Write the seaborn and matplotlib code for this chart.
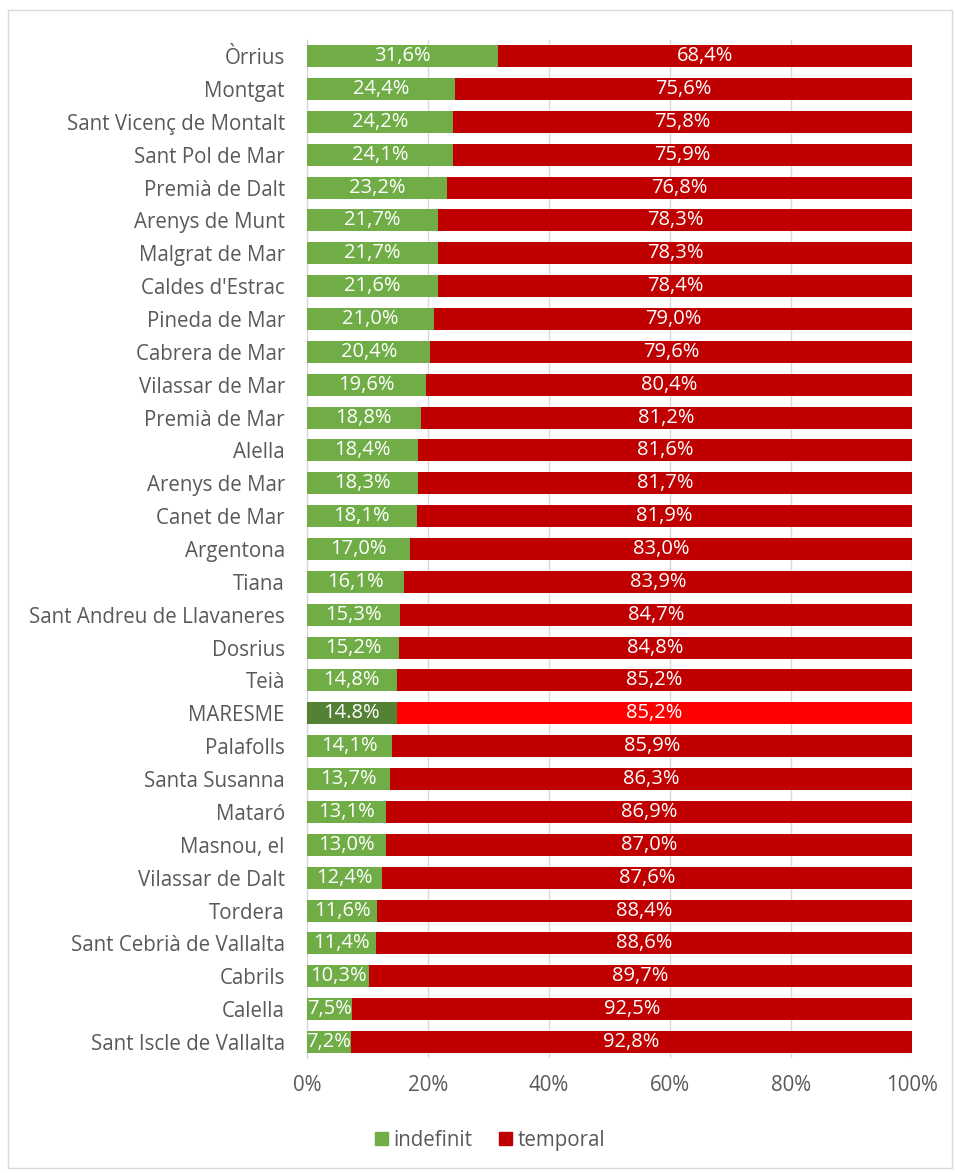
import matplotlib
matplotlib.use("Agg")
import matplotlib.pyplot as plt
import seaborn as sns
import pandas as pd
from matplotlib.patches import Patch, Rectangle

municipis = ["Òrrius", "Montgat", "Sant Vicenç de Montalt", "Sant Pol de Mar", "Premià de Dalt",
             "Arenys de Munt", "Malgrat de Mar", "Caldes d'Estrac", "Pineda de Mar", "Cabrera de Mar",
             "Vilassar de Mar", "Premià de Mar", "Alella", "Arenys de Mar", "Canet de Mar",
             "Argentona", "Tiana", "Sant Andreu de Llavaneres", "Dosrius", "Teià",
             "MARESME", "Palafolls", "Santa Susanna", "Mataró", "Masnou, el",
             "Vilassar de Dalt", "Tordera", "Sant Cebrià de Vallalta", "Cabrils", "Calella",
             "Sant Iscle de Vallalta"]
indefinit = [31.6, 24.4, 24.2, 24.1, 23.2, 21.7, 21.7, 21.6, 21.0, 20.4,
             19.6, 18.8, 18.4, 18.3, 18.1, 17.0, 16.1, 15.3, 15.2, 14.8,
             14.8, 14.1, 13.7, 13.1, 13.0, 12.4, 11.6, 11.4, 10.3, 7.5, 7.2]
temporal = [68.4, 75.6, 75.8, 75.9, 76.8, 78.3, 78.3, 78.4, 79.0, 79.6,
            80.4, 81.2, 81.6, 81.7, 81.9, 83.0, 83.9, 84.7, 84.8, 85.2,
            85.2, 85.9, 86.3, 86.9, 87.0, 87.6, 88.4, 88.6, 89.7, 92.5, 92.8]

GREEN, RED = "#70AD47", "#C00000"
GREEN_HI, RED_HI = "#548235", "#FF0000"
FONT = "Open Sans"
GREY = "#595959"

df = pd.DataFrame({"municipi": municipis, "indefinit": indefinit, "temporal": temporal})
df["total"] = df["indefinit"] + df["temporal"]

sns.set_theme(style="white")
plt.rcParams["font.family"] = [FONT, "DejaVu Sans"]

fig = plt.figure(figsize=(9.55, 11.73), dpi=100)
ax = fig.add_axes([0.3215, 0.0977, 0.955 - 0.3215, 0.9662 - 0.0977])

red_pal = {m: (RED_HI if m == "MARESME" else RED) for m in municipis}
green_pal = {m: (GREEN_HI if m == "MARESME" else GREEN) for m in municipis}

sns.barplot(data=df, x="total", y="municipi", hue="municipi", palette=red_pal,
            order=municipis, hue_order=municipis, legend=False, width=0.67,
            ax=ax, saturation=1, linewidth=0, zorder=2)
sns.barplot(data=df, x="indefinit", y="municipi", hue="municipi", palette=green_pal,
            order=municipis, hue_order=municipis, legend=False, width=0.67,
            ax=ax, saturation=1, linewidth=0, zorder=3)

for i, m in enumerate(municipis):
    a, b = indefinit[i], temporal[i]
    la = f"{a:.1f}%" if m == "MARESME" else f"{a:.1f}%".replace(".", ",")
    lb = f"{b:.1f}%".replace(".", ",")
    ax.text(a / 2, i, la, ha="center", va="center", color="white", fontsize=14.5, zorder=5)
    ax.text(a + b / 2, i, lb, ha="center", va="center", color="white", fontsize=14.5, zorder=5)

ax.set_xlim(0, 100)
ax.set_ylim(len(municipis) - 0.5, -0.5)
ax.set_xticks([0, 20, 40, 60, 80, 100])
ax.set_xticklabels(["0%", "20%", "40%", "60%", "80%", "100%"])
ax.xaxis.grid(True, color="#D9D9D9", linewidth=1, zorder=0)
ax.set_axisbelow(True)
ax.set_xlabel("")
ax.set_ylabel("")
for s in ["top", "right", "bottom"]:
    ax.spines[s].set_visible(False)
ax.spines["left"].set_color("#D9D9D9")
ax.spines["left"].set_linewidth(1)
ax.tick_params(axis="both", length=0, labelsize=14.8, colors=GREY)
ax.tick_params(axis="y", pad=16)
ax.tick_params(axis="x", pad=12)

handles = [Patch(color=GREEN, label="indefinit"), Patch(color=RED, label="temporal")]
fig.legend(handles=handles, loc="center", bbox_to_anchor=(0.513, 0.028), ncol=2,
           frameon=False, fontsize=14.8, labelcolor=GREY, handlelength=0.65, handleheight=0.65,
           handletextpad=0.25, columnspacing=1.3)

fig.patches.append(Rectangle((8 / 955, 1 - 1168 / 1173), 944 / 955, 1158 / 1173,
                             transform=fig.transFigure, fill=False, edgecolor="#D9D9D9",
                             linewidth=1, zorder=-1))

fig.savefig("out.png", dpi=100, facecolor="white")
